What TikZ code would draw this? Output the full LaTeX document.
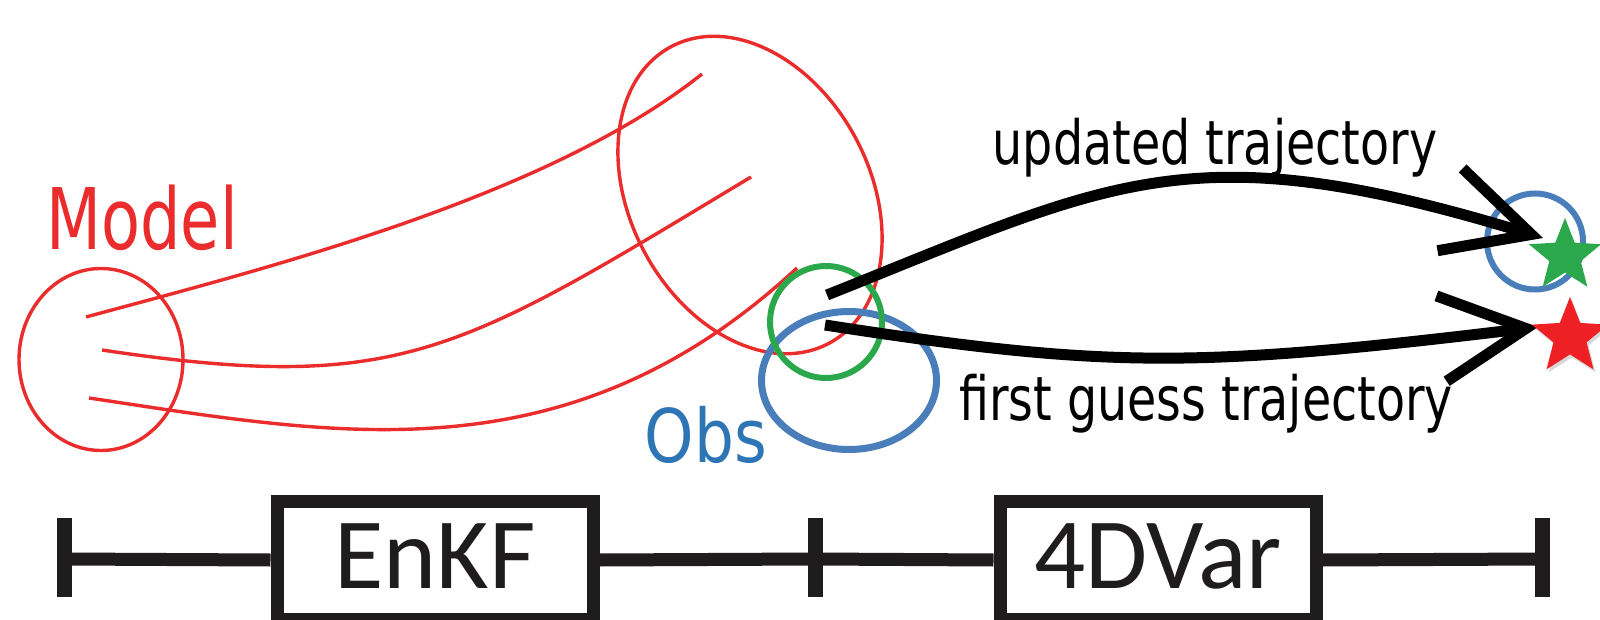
\documentclass[tikz,border=0pt]{standalone}
\usepackage{fontspec}
\usepackage{graphicx}
\usetikzlibrary{arrows.meta,shapes.geometric,shadows}
\newfontfamily\lblfont{DejaVu Sans}
\newfontfamily\boxfont{Carlito}
\definecolor{mred}{RGB}{234,44,44}
\definecolor{mgreen}{RGB}{44,168,76}
\definecolor{mblue}{RGB}{74,126,187}
\definecolor{oblue}{RGB}{46,117,182}
\definecolor{tline}{RGB}{30,28,28}
\definecolor{sred}{RGB}{238,32,36}
\begin{document}
\begin{tikzpicture}[x=1pt,y=-1pt,
  redline/.style={draw=mred, line width=3.4pt},
  ens/.style={draw=mred, line width=3.4pt, ellipse, inner sep=0pt},
  trajarrow/.style={draw=black, line width=11pt, -{Straight Barb[length=85pt,width=86pt,sharp]}},
  tl/.style={draw=tline, line width=13pt},
  tickmark/.style={draw=tline, line width=15pt},
  stagebox/.style={draw=tline, line width=13pt, fill=white, minimum width=316pt, minimum height=118pt,
     inner sep=0pt, text height=65pt, text depth=9pt, text=tline, font=\boxfont\fontsize{101}{110}\selectfont},
  lbl/.style={inner sep=0pt, anchor=base},
  starnode/.style={star, star points=5, star point ratio=2.3, inner sep=0pt, draw=none}
]
\useasboundingbox (0,0) rectangle (1600,620);
\fill[white] (0,0) rectangle (1600,620);

% ensemble circles
\node[ens, minimum width=164pt, minimum height=182pt] (ens0) at (101,359.5) {};
\node[ens, minimum width=240pt, minimum height=336pt, rotate=28] (ens1) at (750,195) {};

% member trajectories
\coordinate (m1) at (86,317);  \coordinate (e1) at (702,74);
\coordinate (m2) at (102,350); \coordinate (e2) at (751,177);
\coordinate (m3) at (89,398);  \coordinate (e3) at (797,268);
\draw[redline] (m1) .. controls (259,270) and (545,199) .. (e1);
\draw[redline] (m2) .. controls (402,395) and (460,352) .. (e2);
\draw[redline] (m3) .. controls (337,435) and (567,481) .. (e3);

\node[lbl, text=mred, font=\lblfont\fontsize{85}{95}\selectfont] (model) at (142,250) {\scalebox{0.75}[1]{Model}};

% observation and analysis
\node[draw=mblue, line width=7pt, ellipse, inner sep=0pt, minimum width=175pt, minimum height=138pt] (obsell) at (849,380.5) {};
\node[draw=mgreen, line width=6pt, circle, inner sep=0pt, minimum size=112pt] (ana) at (826,322) {};
\node[lbl, text=oblue, font=\lblfont\fontsize{74}{84}\selectfont] (obs) at (706,462) {\scalebox{0.85}[1]{Obs}};

\node[draw=mblue, line width=6pt, circle, inner sep=0pt, minimum size=96pt] (obsr) at (1535,241.5) {};

% trajectories
\coordinate (u0) at (827,295); \coordinate (uEnd) at (1543,238);
\coordinate (f0) at (825,325); \coordinate (fEnd) at (1538,327);
\draw[trajarrow] (u0) .. controls (1113,181) and (1190,130) .. (uEnd);
\draw[trajarrow] (f0) .. controls (1109,369) and (1197,368) .. (fEnd);

\node[starnode, fill=mgreen, minimum size=76pt] (gstar) at (1565,256) {};
\node[starnode, fill=sred, minimum size=80pt,
      drop shadow={shadow xshift=2pt, shadow yshift=-3pt, opacity=0.3}] (rstar) at (1570,337) {};

\node[lbl, font=\lblfont\fontsize{61}{70}\selectfont] (upd) at (1215,165) {\scalebox{0.78}[1]{updated trajectory}};
\node[lbl, font=\lblfont\fontsize{61}{70}\selectfont] (fg) at (1206,420) {\scalebox{0.78}[1]{first guess trajectory}};

% timeline
\coordinate (tL) at (64.5,559); \coordinate (tM) at (815,559); \coordinate (tR) at (1542,559);
\coordinate (tLa) at (64.5,518); \coordinate (tLb) at (64.5,597);
\coordinate (tMa) at (815,518);  \coordinate (tMb) at (815,597);
\coordinate (tRa) at (1542,518); \coordinate (tRb) at (1542,597);
\node[stagebox] (enkf) at (435,560) {EnKF};
\node[stagebox] (var) at (1158,560) {4DVar};
\draw[tl] (tL) -- (enkf.west);
\draw[tl] (enkf.east) -- (tM) -- (var.west);
\draw[tl] (var.east) -- (tR);
\draw[tickmark] (tLa) -- (tLb);
\draw[tickmark] (tMa) -- (tMb);
\draw[tickmark] (tRa) -- (tRb);
\end{tikzpicture}
\end{document}
